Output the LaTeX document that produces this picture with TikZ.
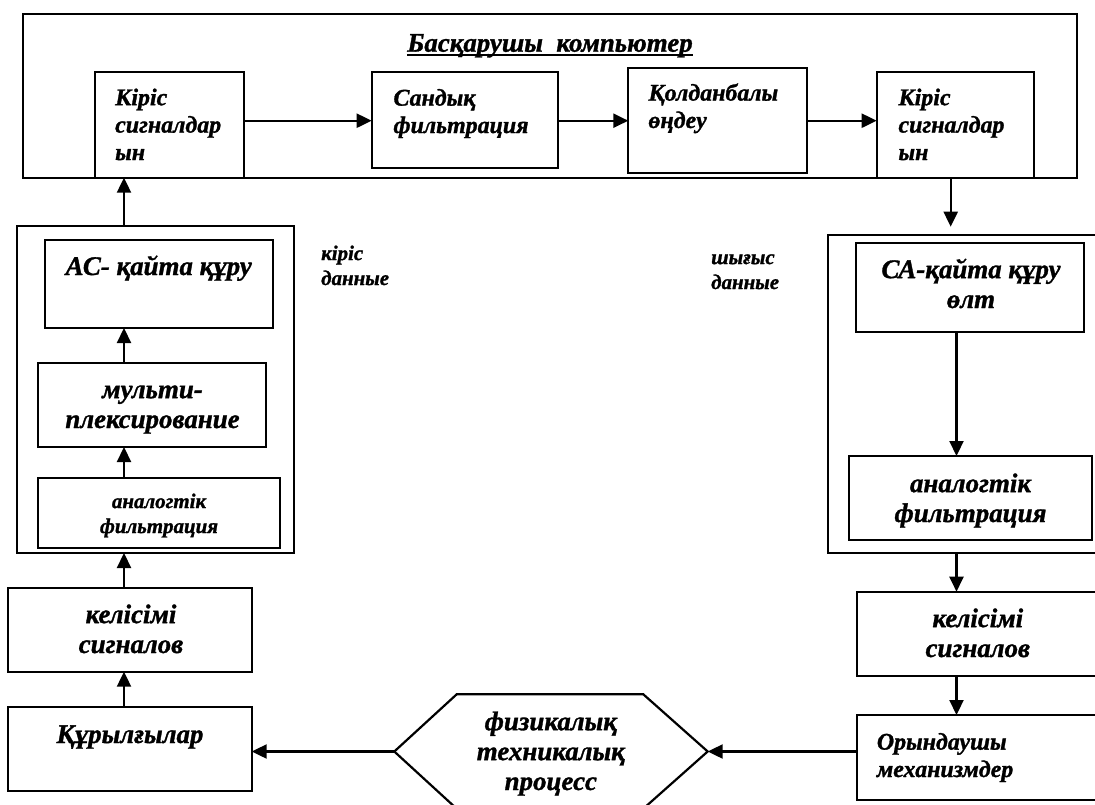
\documentclass[tikz,border=0pt]{standalone}
\usepackage{fontspec}
\setmainfont{Liberation Serif}[BoldItalicFont={Liberation Serif Bold Italic}, BoldFont={Liberation Serif Bold}, ItalicFont={Liberation Serif Italic}, BoldItalicFeatures={FakeBold=1.2}]
\usetikzlibrary{arrows.meta}
\newcommand\mybox[5]{\node[box, minimum width={((#4)-(#2))*1bp}, minimum height={((#5)-(#3))*1bp}] (#1) at (#2,#3) {};}
\begin{document}
\begin{tikzpicture}[x=1bp,y=-1bp,
  box/.style={draw, line width=2.2bp, rectangle, inner sep=0pt, outer sep=0pt, anchor=north west},
  lbl/.style={inner sep=0pt, anchor=base, align=center, font=\bfseries\itshape\fontsize{27}{30}\selectfont},
  lbll/.style={lbl, anchor=base west, align=left},
  top/.style={font=\bfseries\itshape\fontsize{24}{27.5}\selectfont},
  small/.style={font=\bfseries\itshape\fontsize{21}{25}\selectfont},
  arr/.style={line width=2.2bp, -{Triangle[length=15bp,width=14bp]}},
  ln/.style={line width=2.2bp}]
\useasboundingbox (0,0) rectangle (1095,805);
\clip (0,0) rectangle (1095,805);
% boxes
\mybox{comp}{23.3}{14.3}{1076.7}{177.7}
\mybox{b1}{95}{71.7}{244.3}{177.7}
\mybox{b2}{371.7}{71.7}{557.7}{168.3}
\mybox{b3}{628.3}{67.7}{806.7}{173.3}
\mybox{b4}{876.7}{71.7}{1034.3}{177.7}
\mybox{lgrp}{17}{226}{294}{553}
\mybox{ac}{45}{240}{273}{328}
\mybox{mux}{38}{363}{266}{447}
\mybox{lfil}{38}{478}{280}{548}
\mybox{lsig}{8.3}{587.7}{251.7}{671.7}
\mybox{dev}{8.3}{706.7}{251.7}{790.7}
\mybox{rgrp}{828}{235}{1100}{553}
\mybox{ca}{856}{243}{1084}{332}
\mybox{rfil}{849}{456}{1092}{540}
\mybox{rsig}{856.7}{591.7}{1100}{676}
\mybox{act}{856.7}{715}{1100}{800}
% hexagon
\coordinate (hexL) at (394.3,751.5);
\coordinate (hexR) at (707.7,751.5);
\draw[ln] (hexL) -- (456.7,694.3) -- (643.3,694.3) -- (hexR) -- (643.3,808.7) -- (456.7,808.7) -- cycle;
% helper coordinates
\coordinate (row) at (0,120.7);
\coordinate (lc) at (124,0);
\coordinate (rdown) at (950.7,226.7);
\coordinate (rc) at (956.5,0);
% connectors
\draw[arr] (b1.east |- row) -- (b2.west |- row);
\draw[arr] (b2.east |- row) -- (b3.west |- row);
\draw[arr] (b3.east |- row) -- (b4.west |- row);
\draw[arr] (b4.south -| rdown) -- (rdown);
\draw[arr] (ca.south -| rc) -- (rfil.north -| rc);
\draw[arr] (rgrp.south -| rc) -- (rsig.north -| rc);
\draw[arr] (rsig.south -| rc) -- (act.north -| rc);
\draw[arr] (act.west |- hexR) -- (hexR);
\draw[arr] (hexL) -- (dev.east |- hexL);
\draw[arr] (dev.north -| lc) -- (lsig.south -| lc);
\draw[arr] (lsig.north -| lc) -- (lgrp.south -| lc);
\draw[arr] (lfil.north -| lc) -- (mux.south -| lc);
\draw[arr] (mux.north -| lc) -- (ac.south -| lc);
\draw[arr] (lgrp.north -| lc) -- (b1.south -| lc);
% texts (anchor = baseline of last line)
\node[lbl, font=\bfseries\itshape\fontsize{27}{30}\selectfont] (title) at (550,51.7) {Басқарушы\ \ компьютер};
\draw[line width=1.8bp] ([yshift=-3.5bp]title.base west) -- ([yshift=-3.5bp]title.base east);
\node[lbll, top] (t1) at (115,160) {Кіріс\\сигналдар\\ын};
\node[lbll, top] (t2) at (393.3,133) {Сандық\\фильтрация};
\node[lbll, top] (t3) at (648.3,128) {Қолданбалы\\өңдеу};
\node[lbll, top] (t4) at (898.3,160) {Кіріс\\сигналдар\\ын};
\node[lbl] (tac) at (158.7,275) {АС- қайта құру};
\node[lbl] (tmux) at (152.5,428) {мульти-\\плексирование};
\node[lbl, small] (tlfil) at (159,533) {аналогтік\\фильтрация};
\node[lbll, small] (tin) at (321,285) {кіріс\\данные};
\node[lbll, small] (tout) at (711,289) {шығыс\\данные};
\node[lbl] (tca) at (971,308) {СА-қайта құру\\өлт};
\node[lbl] (trfil) at (970.5,522) {аналогтік\\фильтрация};
\node[lbl] (tlsig) at (131,653) {келісімі\\сигналов};
\node[lbl] (tdev) at (130,743) {Құрылғылар};
\node[lbl] (thex) at (550.8,790) {физикалық\\техникалық\\процесс};
\node[lbl] (trsig) at (977.8,657) {келісімі\\сигналов};
\node[lbll, top] (tact) at (876.7,777) {Орындаушы\\механизмдер};
\end{tikzpicture}
\end{document}
